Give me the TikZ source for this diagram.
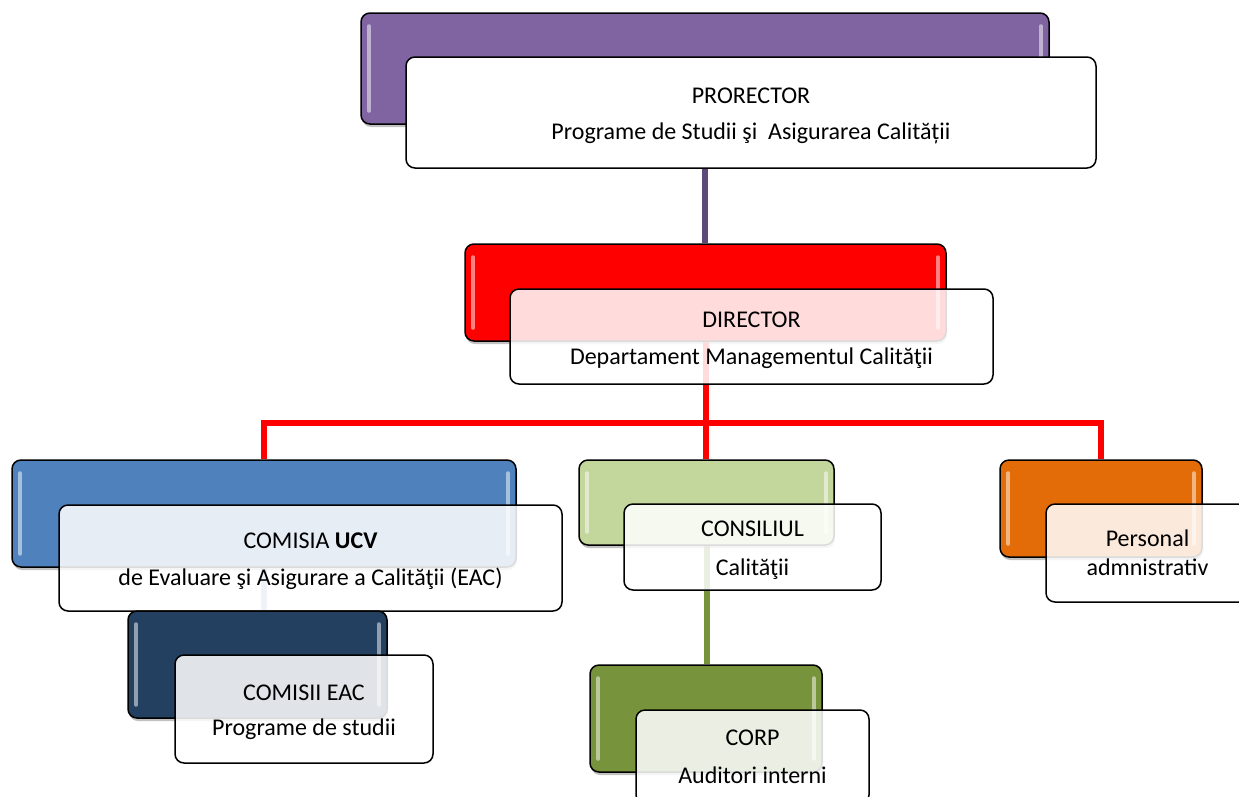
\documentclass[tikz,border=0pt]{standalone}
\usepackage{fontspec}
\setmainfont{Carlito}
\usetikzlibrary{shadows,backgrounds}
\definecolor{cPurple}{HTML}{8064A2}
\definecolor{cPurpleLine}{HTML}{5F497A}
\definecolor{cRed}{HTML}{FF0000}
\definecolor{cBlue}{HTML}{4F81BD}
\definecolor{cBlueLine}{HTML}{8EA9CF}
\definecolor{cNavy}{HTML}{244061}
\definecolor{cLime}{HTML}{C3D69B}
\definecolor{cOlive}{HTML}{77933C}
\definecolor{cOrange}{HTML}{E36C09}
\tikzset{
  cbox/.style={draw=black, line width=1.5pt, rounded corners=9pt, fill=#1, inner sep=0pt,
    drop shadow={shadow xshift=1pt, shadow yshift=-3pt, opacity=0.35, fill=black!70}},
  wbox/.style={draw=black, line width=1.5pt, rounded corners=9pt, fill=white, fill opacity=0.86,
    text opacity=1, draw opacity=1, align=center, inner sep=0pt,
    font=\fontsize{24}{29}\selectfont},
  link/.style={line width=6pt},
  glintline/.style={white, opacity=0.5, line width=4pt, line cap=round}
}
\newcommand\lifttxt{\rule{0pt}{23pt}}
\newcommand\glint[1]{%
  \draw[glintline] ([xshift=9pt,yshift=-14pt]#1.north west) -- ([xshift=9pt,yshift=14pt]#1.south west);
  \draw[glintline] ([xshift=-9pt,yshift=-14pt]#1.north east) -- ([xshift=-9pt,yshift=14pt]#1.south east);}
\begin{document}
\begin{tikzpicture}[x=1pt,y=-1pt]
\useasboundingbox (0,0) rectangle (1239,796);
\clip (0,0) rectangle (1239,796);

% PRORECTOR
\node[cbox=cPurple, minimum width=688pt, minimum height=111pt] (pb) at (705,68.5) {};
\glint{pb}
\node[wbox, fill opacity=1, minimum width=690pt, minimum height=111pt] (pr) at (751,112.5)
  {\lifttxt PRORECTOR\\[7pt]Programe de Studii şi\ \ Asigurarea Calității};

% DIRECTOR
\node[cbox=cRed, minimum width=481pt, minimum height=97pt] (rb) at (705.5,292.5) {};
\glint{rb}
\node[wbox, minimum width=483pt, minimum height=95pt] (dr) at (751.5,336.5)
  {\lifttxt DIRECTOR\\[8pt]Departament Managementul Calităţii};

% COMISIA UCV
\node[cbox=cBlue, minimum width=504pt, minimum height=107pt] (bb) at (264,513.5) {};
\glint{bb}
\node[wbox, minimum width=503pt, minimum height=106pt] (cm) at (310.5,558)
  {\lifttxt COMISIA \textbf{UCV}\\[8pt]de Evaluare şi Asigurare a Calităţii (EAC)};

% COMISII EAC
\node[cbox=cNavy, minimum width=259pt, minimum height=107pt] (db) at (257.5,664.5) {};
\glint{db}
\node[wbox, minimum width=258pt, minimum height=108pt] (ce) at (304,709)
  {\lifttxt COMISII EAC\\[6pt]Programe de studii};

% CONSILIUL
\node[cbox=cLime, minimum width=255pt, minimum height=85pt] (gb) at (706.5,502.5) {};
\glint{gb}
\node[wbox, minimum width=257pt, minimum height=86pt] (cs) at (752.5,547)
  {\lifttxt CONSILIUL\\[10pt]Calităţii};

% CORP
\node[cbox=cOlive, minimum width=232pt, minimum height=107pt] (vb) at (706,718.5) {};
\glint{vb}
\node[wbox, minimum width=233pt, minimum height=94pt] (co) at (752.5,757)
  {CORP\\[9pt]Auditori interni};

% Personal
\node[cbox=cOrange, minimum width=202pt, minimum height=97pt] (ob) at (1101,508.5) {};
\glint{ob}
\node[wbox, minimum width=203pt, minimum height=98pt] (ps) at (1147.5,553)
  {Personal\\[0pt]admnistrativ};

% connectors
\begin{scope}[on background layer]
\draw[link, cPurpleLine] (pb.south) -- (pb.south |- rb.north);
\coordinate (hub) at (705.5,423);
\draw[link, cRed] (rb.south) -- (hub) -| (bb.north);
\draw[link, cRed] (hub) -| (ob.north);
\draw[link, cRed] (hub) -- (hub |- gb.north);
\draw[link, cBlueLine] (bb.south) -- (bb.south |- db.north);
\draw[link, cOlive] (gb.south) -- (gb.south |- vb.north);
\end{scope}
\end{tikzpicture}
\end{document}
